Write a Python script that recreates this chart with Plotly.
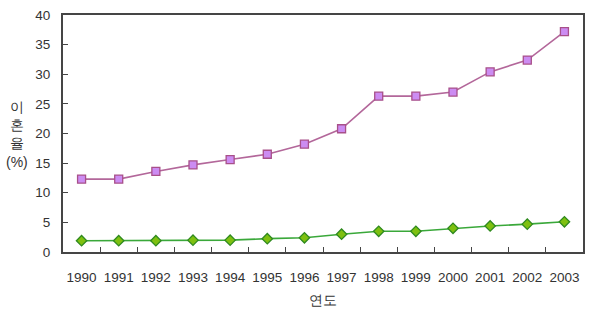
import plotly.graph_objects as go

years = ["1990", "1991", "1992", "1993", "1994", "1995", "1996", "1997",
         "1998", "1999", "2000", "2001", "2002", "2003"]
series_upper = [12.3, 12.3, 13.6, 14.7, 15.6, 16.5, 18.2, 20.8,
                26.3, 26.3, 27.0, 30.4, 32.4, 37.2]
series_lower = [1.9, 1.9, 1.9, 2.0, 2.0, 2.25, 2.4, 3.0,
                3.5, 3.5, 4.0, 4.4, 4.7, 5.1]
y_ticks = [0, 5, 10, 15, 20, 25, 30, 35, 40]
y_title = "이<br>혼<br>율<br>(%)"
x_title = "연도"

axis_color = "#454545"
text_color = "#333333"
font_family = "Liberation Sans, Arial, sans-serif"

fig = go.Figure()
fig.add_trace(go.Scatter(
    x=years, y=series_upper, mode="lines+markers",
    line=dict(color="#b3679a", width=1.6),
    marker=dict(symbol="square", size=8, color="#cc8cf2",
                line=dict(color="#a8508a", width=1.3)),
    showlegend=False,
))
fig.add_trace(go.Scatter(
    x=years, y=series_lower, mode="lines+markers",
    line=dict(color="#3aa83a", width=1.6),
    marker=dict(symbol="diamond", size=8, color="#7ec010",
                line=dict(color="#2f8a1f", width=1.3)),
    showlegend=False,
))

fig.update_layout(
    width=593, height=325,
    margin=dict(l=63, r=8, t=15, b=73),
    paper_bgcolor="white", plot_bgcolor="white",
    font=dict(family=font_family, color=text_color, size=13),
    xaxis=dict(
        type="category", range=[-0.5, 13.5], tickangle=0,
        showline=True, linecolor=axis_color, linewidth=2, mirror=True,
        ticks="inside", tickson="boundaries", ticklen=5, tickcolor=axis_color,
        tickwidth=1.2, showgrid=False, zeroline=False,
        tickfont=dict(size=13.5, color=text_color),
        ticklabelstandoff=12,
    ),
    yaxis=dict(
        range=[0, 40], tickvals=y_ticks,
        showline=True, linecolor=axis_color, linewidth=2, mirror=True,
        ticks="inside", ticklen=5, tickcolor=axis_color, tickwidth=1.2,
        showgrid=False, zeroline=False,
        tickfont=dict(size=13.5, color=text_color),
        ticklabelstandoff=8,
    ),
    annotations=[
        dict(text=y_title, xref="paper", yref="y", x=0, y=19.8,
             xanchor="center", yanchor="middle", xshift=-46, showarrow=False,
             font=dict(size=14, color=text_color, family=font_family)),
        dict(text=x_title, xref="paper", yref="paper", x=0.5, y=0,
             xanchor="center", yanchor="middle", yshift=-48, showarrow=False,
             font=dict(size=14, color=text_color, family=font_family)),
    ],
)

fig.write_html("out.html")
